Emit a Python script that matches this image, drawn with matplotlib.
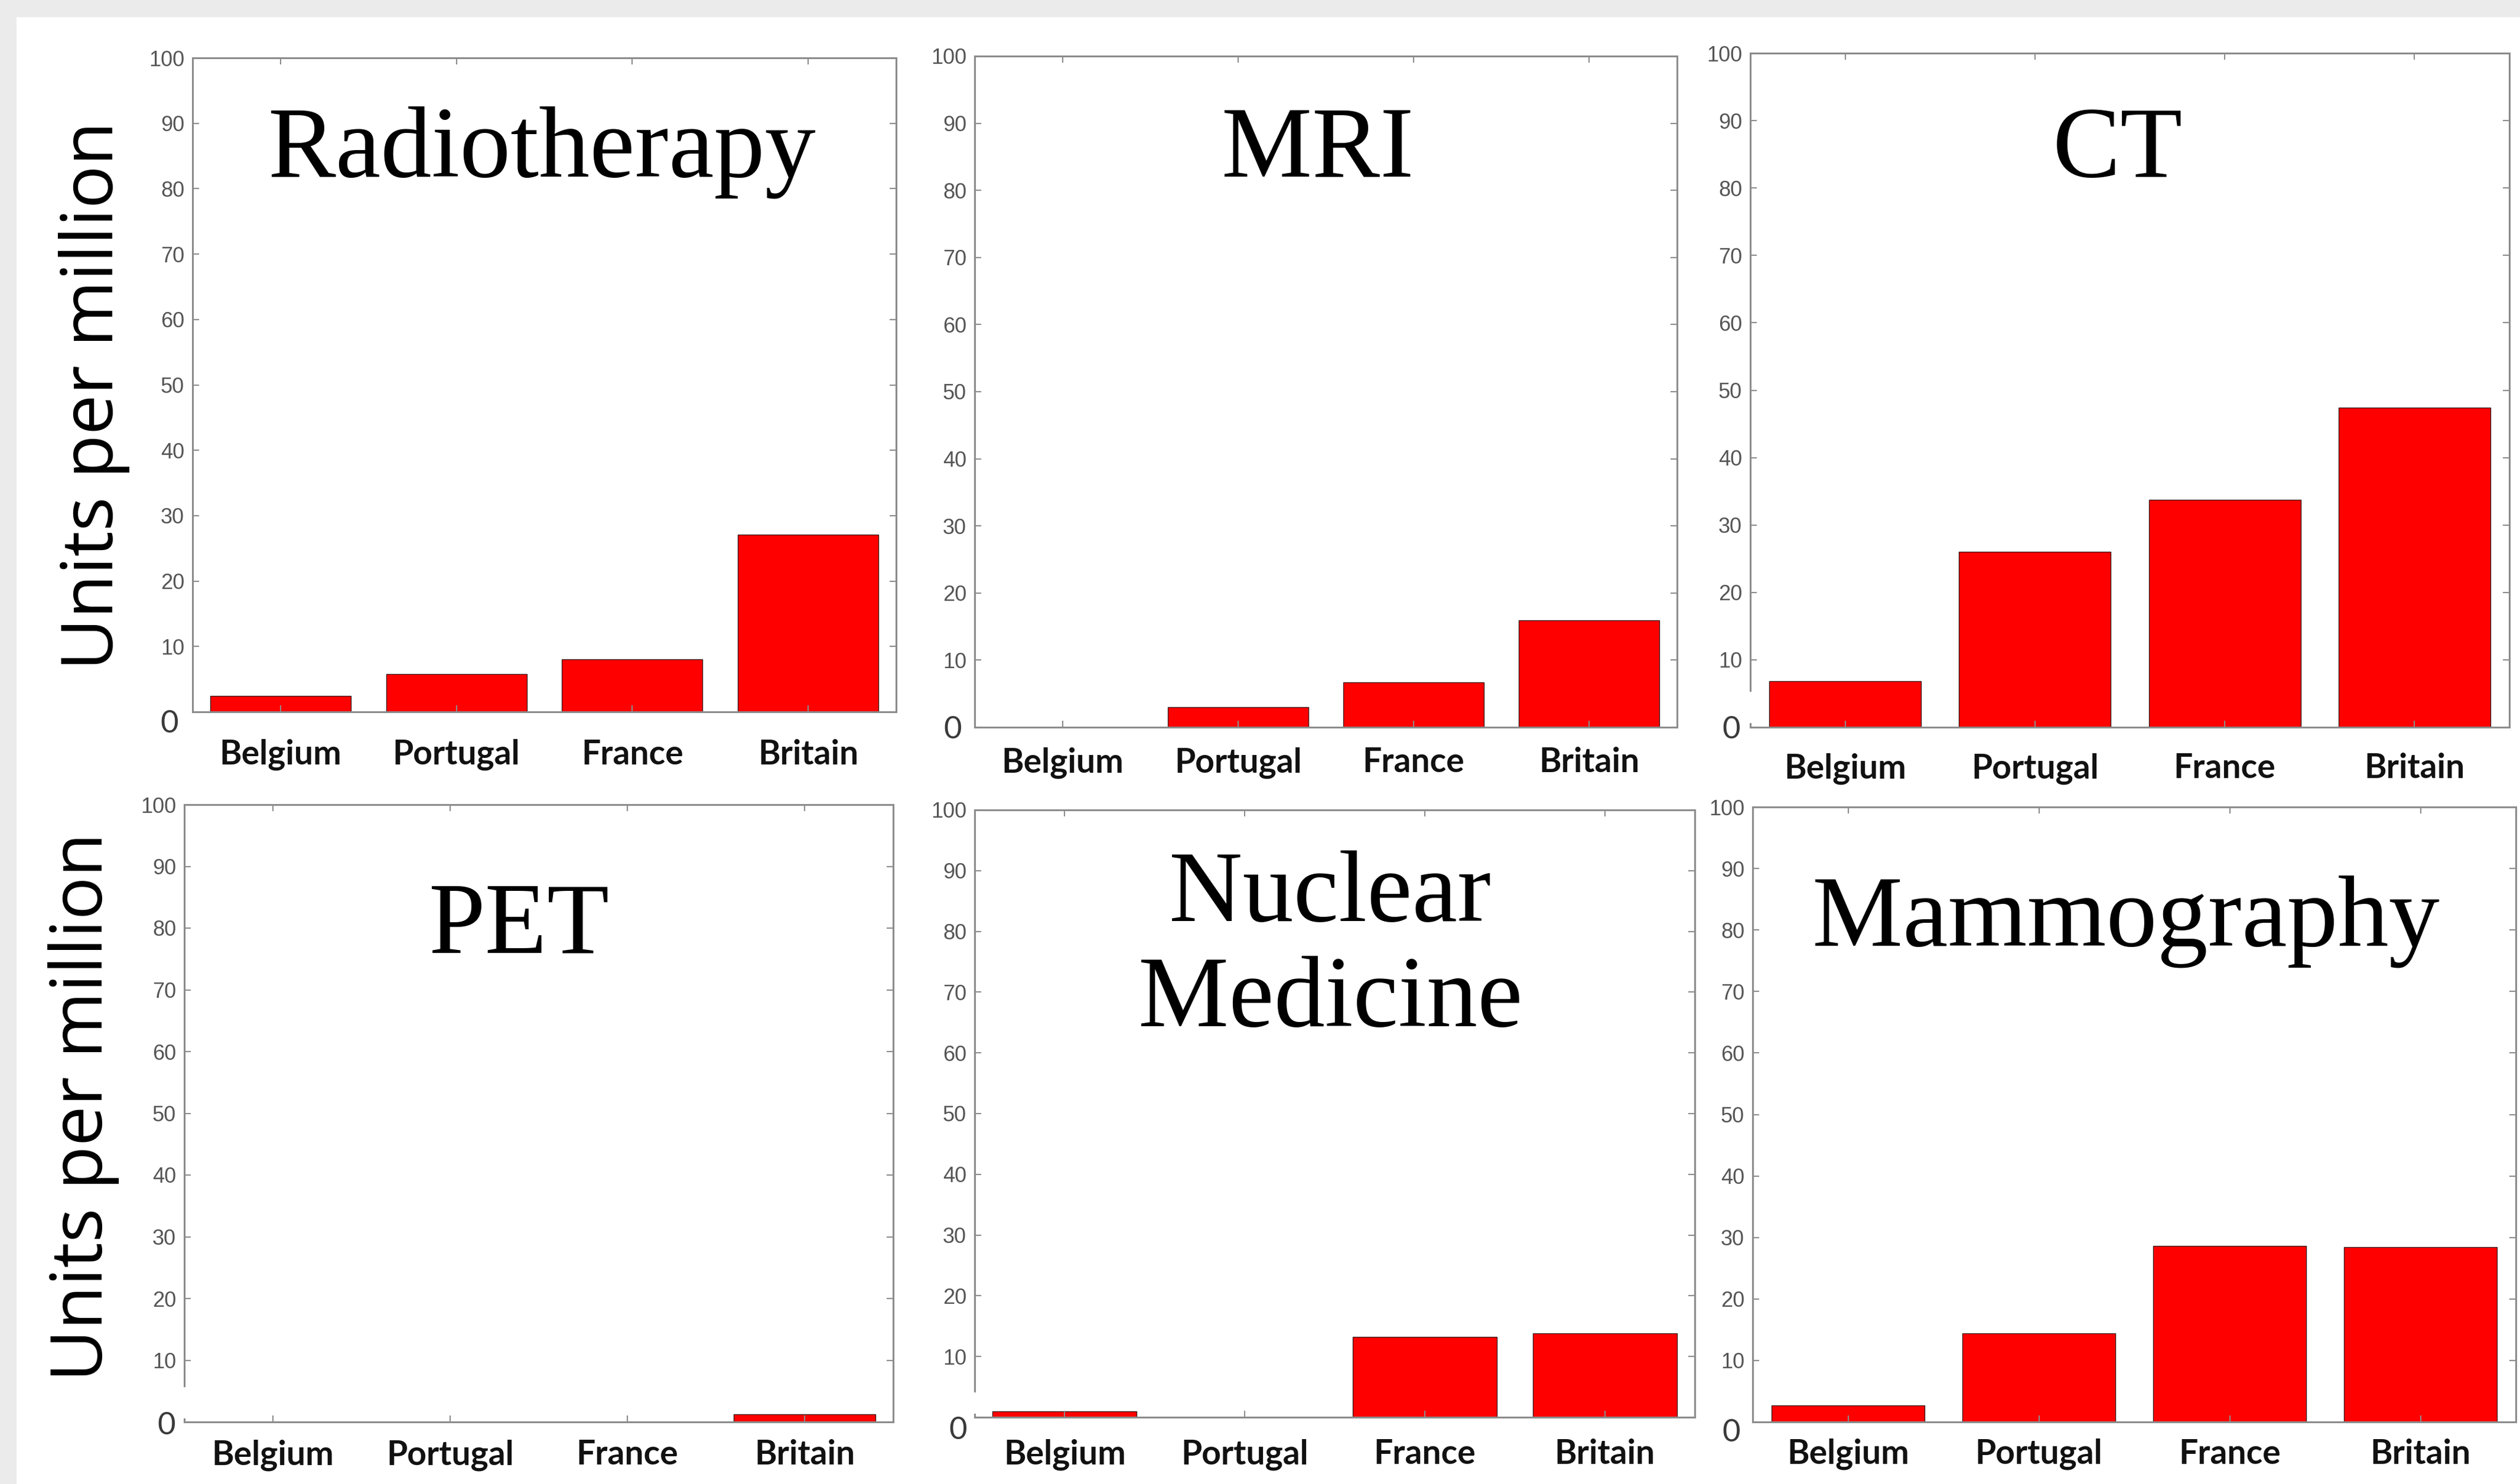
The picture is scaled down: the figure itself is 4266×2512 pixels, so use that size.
import matplotlib.pyplot as plt
from matplotlib.patches import Rectangle

# data (units per million inhabitants)
countries = ['Belgium', 'Portugal', 'France', 'Britain']
modalities = ['Radiotherapy', 'MRI', 'CT', 'PET', 'Nuclear\nMedicine', 'Mammography']

radiotherapy = [2.4, 5.8, 8.0, 27.1]
mri = [0.0, 3.0, 6.7, 15.9]
ct = [6.8, 26.0, 33.7, 47.4]
pet = [0.0, 0.0, 0.0, 1.2]
nuclear_medicine = [1.0, 0.0, 13.2, 13.8]
mammography = [2.7, 14.4, 28.6, 28.4]
series = [radiotherapy, mri, ct, pet, nuclear_medicine, mammography]

yticks = [0, 10, 20, 30, 40, 50, 60, 70, 80, 90, 100]
ylabel = 'Units per million'

# layout (pixels of the 4266x2512 canvas): left, top, right, bottom of each axes
W, H = 4266, 2512
boxes = [(326, 98, 1517, 1205), (1650, 95, 2839, 1231), (2963, 90, 4248, 1231),
         (312, 1362, 1512, 2407), (1650, 1371, 2869, 2399), (2967, 1366, 4259, 2407)]
title_x = [0.496, 0.488, 0.484, 0.472, 0.494, 0.489]
# baseline of the last title line, in data units
title_y = [81.9, 82.0, 81.7, 76.0, 64.4, 77.5]
xlab_pad = [33, 24, 31, 21, 26, 20]
zero_off = [(-39, -20), (-37, -4), (-32, -4), (-30, -6), (-28, -22), (-36, -18)]
spine_gap = [0, 0, 0.047, 0.05, 0.035, 0]

grid_col = '#8c8c8c'

fig = plt.figure(figsize=(W / 100, H / 100), dpi=100, facecolor='#ebebeb')
fig.add_artist(Rectangle((28 / W, 0), 1, 1 - 29 / H, transform=fig.transFigure,
                         facecolor='white', edgecolor='none', zorder=-1))

for i, vals in enumerate(series):
    l, t, r, b = boxes[i]
    ax = fig.add_axes([l / W, 1 - b / H, (r - l) / W, (b - t) / H])
    x = range(1, len(countries) + 1)
    ax.bar(x, vals, width=0.8, color='#ff0000', edgecolor='#3a1a1a', linewidth=1.0)
    ax.set_xlim(0.5, 4.5)
    ax.set_ylim(0, 100)
    ax.set_xticks(list(x))
    ax.set_xticklabels(countries, fontfamily='Lato', fontweight='bold', fontsize=41,
                       color='#111111')
    ax.set_yticks(yticks)
    ax.set_yticklabels([''] + [str(v) for v in yticks[1:]], fontfamily='Liberation Sans',
                       fontsize=26, color='#555555')
    ax.tick_params(axis='both', direction='in', length=8, width=1.5, color=grid_col,
                   top=True, right=True)
    ax.tick_params(axis='x', pad=xlab_pad[i])
    ax.tick_params(axis='y', pad=10)
    for s in ax.spines.values():
        s.set_color(grid_col)
        s.set_linewidth(2.2)

    # the big "0" pasted on the original
    ax.annotate('0', xy=(0, 0), xycoords=('axes fraction', 'data'),
                xytext=zero_off[i], textcoords='offset pixels', ha='center', va='center',
                fontfamily='Lato', fontsize=38, color='#3a3a3a', annotation_clip=False)
    if spine_gap[i] > 0:
        ax.add_patch(Rectangle((-0.01, 0.006), 0.02, spine_gap[i], transform=ax.transAxes,
                               facecolor='white', edgecolor='none', zorder=5, clip_on=False))

    # panel title inside the axes: x in axes fraction, y in data units
    ax.text(title_x[i], title_y[i], modalities[i], transform=ax.get_yaxis_transform(),
            ha='center', va='baseline', fontfamily='Liberation Serif', fontsize=124,
            linespacing=1.18, color='black')

fig.text(160 / W, 1 - 670 / H, ylabel, rotation=90, ha='center', va='center',
         fontfamily='Open Sans', fontsize=87, color='black')
fig.text(141 / W, 1 - 1874 / H, ylabel, rotation=90, ha='center', va='center',
         fontfamily='Open Sans', fontsize=87, color='black')

fig.savefig('out.png', dpi=100, facecolor=fig.get_facecolor())
